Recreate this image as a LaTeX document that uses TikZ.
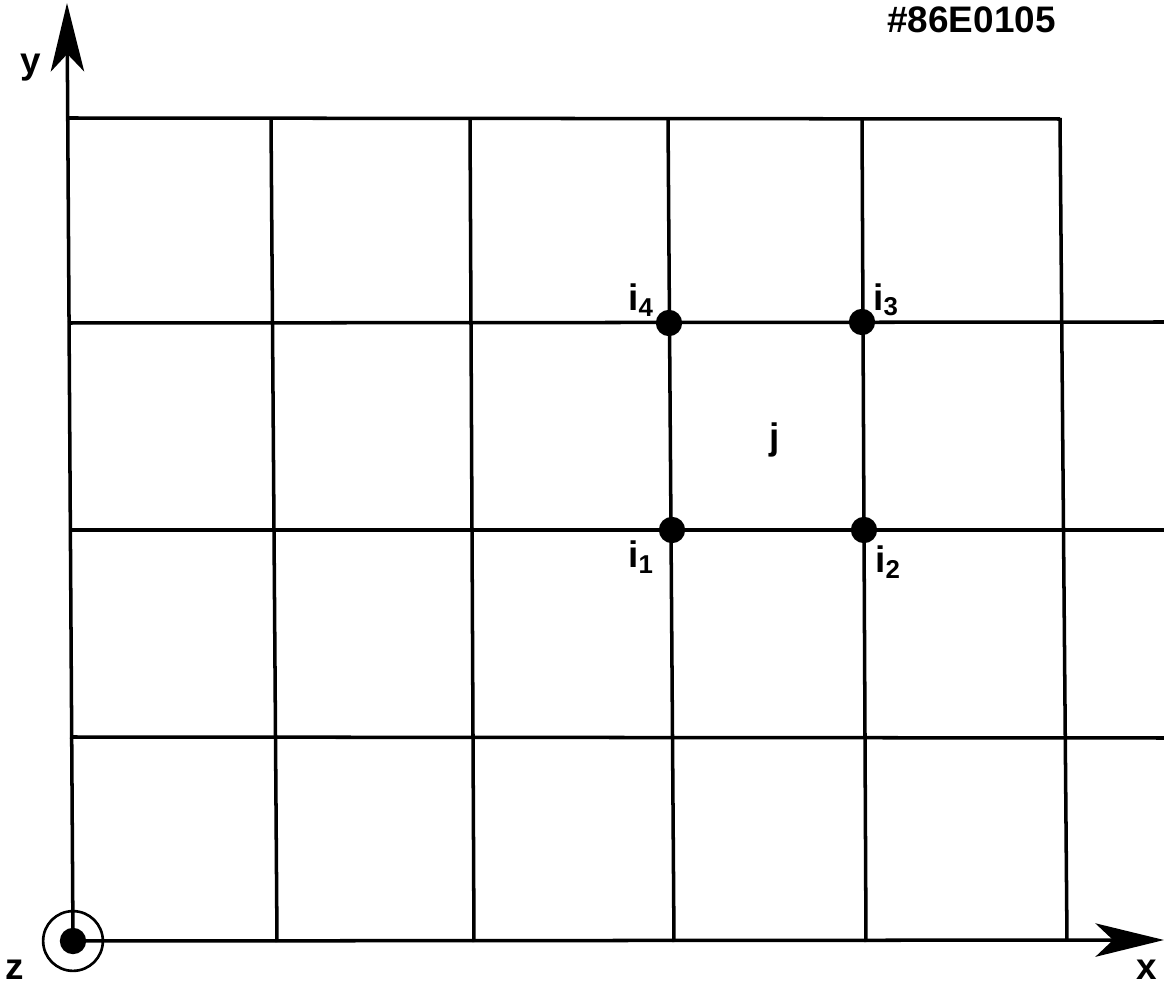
\documentclass[tikz,border=0pt]{standalone}
\usepackage{fontspec}
\setmainfont{Liberation Sans}
\usetikzlibrary{arrows.meta}
\begin{document}
\begin{tikzpicture}[x=0.02cm,y=-0.02cm,
  gridline/.style={line width=2pt},
  dotnode/.style={circle,fill=black,inner sep=0pt,minimum size=15pt},
  lbl/.style={font=\bfseries\fontsize{21}{24}\selectfont,inner sep=0pt},
  bigarrow/.style={line width=2pt,-{Stealth[length=39pt,width=19pt,inset=10pt]}}]
\useasboundingbox (0,0) rectangle (1164,986);
% origin
\node[circle,draw,line width=1.5pt,minimum size=34pt,inner sep=0pt] (ring) at (73,941) {};
\node[circle,fill=black,inner sep=0pt,minimum size=15pt] (o) at (73,941) {};
\coordinate (ytip) at (67,3);
\coordinate (xtip) at (1164,940);
\draw[bigarrow] (o.center) -- (ytip);
\draw[bigarrow] (o.center) -- (xtip);
% vertical grid lines
\draw[gridline] (271,118) -- (277,942);
\draw[gridline] (470,118) -- (474,942);
\draw[gridline] (668,118) -- (674,942);
\draw[gridline] (862,118) -- (866,942);
\draw[gridline] (1060,118) -- (1067,941);
% horizontal grid lines
\draw[gridline] (67,118) -- (1060,119);
\draw[gridline] (68,323) -- (1164,322);
\draw[gridline] (69,530) -- (1164,530);
\draw[gridline] (70,737) -- (1164,738);
% nodes
\node[dotnode] (i4) at (669,323) {};
\node[dotnode] (i3) at (862,322) {};
\node[dotnode] (i1) at (672,530) {};
\node[dotnode] (i2) at (864,530) {};
\node[lbl] (li4) at (641,300) {i$_{\mathbf 4}$};
\node[lbl] (li3) at (886,300) {i$_{\mathbf 3}$};
\node[lbl] (li1) at (641,557) {i$_{\mathbf 1}$};
\node[lbl] (li2) at (888,562) {i$_{\mathbf 2}$};
\node[lbl] (lj) at (775,440) {j};
\node[lbl] (ly) at (31,68) {y};
\node[lbl] (lx) at (1147,970) {x};
\node[lbl] (lz) at (15,970) {z};
\node[lbl,anchor=east] (title) at (1056,20) {\#86E0105};
\end{tikzpicture}
\end{document}
